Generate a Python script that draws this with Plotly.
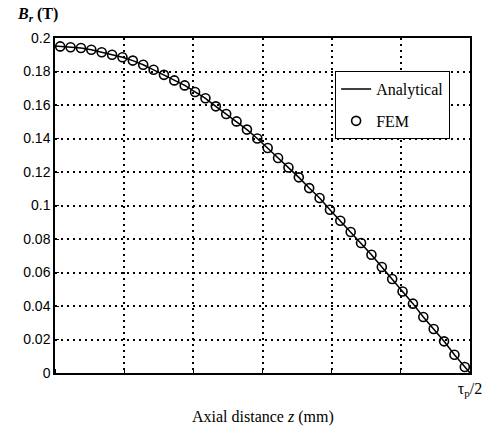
import plotly.graph_objects as go

# Axial position as a fraction of tau_p/2
z_fem = [0.0125, 0.0375, 0.0625, 0.0875, 0.1125, 0.1375, 0.1625, 0.1875, 0.2125, 0.2375,
         0.2625, 0.2875, 0.3125, 0.3375, 0.3625, 0.3875, 0.4125, 0.4375, 0.4625, 0.4875,
         0.5125, 0.5375, 0.5625, 0.5875, 0.6125, 0.6375, 0.6625, 0.6875, 0.7125, 0.7375,
         0.7625, 0.7875, 0.8125, 0.8375, 0.8625, 0.8875, 0.9125, 0.9375, 0.9625, 0.9875]
br_fem = [0.1950, 0.1945, 0.1940, 0.1930, 0.1915, 0.1900, 0.1885, 0.1865, 0.1840, 0.1810,
          0.1780, 0.1747, 0.1717, 0.1678, 0.1640, 0.1592, 0.1546, 0.1502, 0.1453, 0.1400,
          0.1343, 0.1284, 0.1227, 0.1168, 0.1104, 0.1045, 0.0975, 0.0909, 0.0842, 0.0776,
          0.0706, 0.0633, 0.0561, 0.0487, 0.0414, 0.0334, 0.0263, 0.0189, 0.0109, 0.0036]

z_analytical = [0.0] + z_fem + [1.0]
br_analytical = [0.1952] + br_fem + [0.0]

x_gridvals = [0, 1/6, 2/6, 3/6, 4/6, 5/6]
x_ticks = [1]
x_ticktext = ["τ<sub>p</sub>/2"]
y_ticks = [0, 0.02, 0.04, 0.06, 0.08, 0.1, 0.12, 0.14, 0.16, 0.18, 0.2]
y_ticktext = ["0", "0.02", "0.04", "0.06", "0.08", "0.1", "0.12", "0.14", "0.16", "0.18", "0.2"]

serif = "Liberation Serif, Times New Roman, serif"
sans = "Liberation Sans, Arial, sans-serif"

fig = go.Figure()
fig.add_trace(go.Scatter(x=z_analytical, y=br_analytical, mode="lines", name="Analytical",
                         legendgroup="a",
                         line=dict(color="black", width=1.5)))
fig.add_trace(go.Scatter(x=z_fem, y=br_fem, mode="markers", name="FEM",
                         legendgroup="b",
                         marker=dict(symbol="circle-open", size=9, color="black",
                                     line=dict(color="black", width=1.6))))

grid_style = dict(gridcolor="black", griddash="2px,4px", gridwidth=1.5)

fig.update_layout(
    width=494, height=428,
    margin=dict(l=55, r=16, t=38, b=55),
    paper_bgcolor="white", plot_bgcolor="white",
    xaxis=dict(range=[0, 1], tickvals=x_ticks, ticktext=x_ticktext,
               tickfont=dict(family=serif, size=16, color="black"),
               showline=True, mirror=True, linecolor="black", linewidth=1.5,
               showgrid=False, ticks="", zeroline=False,
               minor=dict(tickvals=x_gridvals, showgrid=True, ticks="inside",
                          ticklen=4, tickcolor="black", **grid_style)),
    yaxis=dict(range=[0, 0.2], tickvals=y_ticks, ticktext=y_ticktext,
               tickfont=dict(family=sans, size=14, color="black"),
               showline=True, mirror=True, linecolor="black", linewidth=1.5,
               showgrid=True, ticks="inside", ticklen=4, tickcolor="black",
               zeroline=False, **grid_style),
    legend=dict(x=0.675, y=0.901, xanchor="left", yanchor="top",
                bgcolor="white", bordercolor="black", borderwidth=1,
                font=dict(family=serif, size=16, color="black"),
                tracegroupgap=8, itemwidth=30),
    showlegend=True,
    annotations=[
        dict(text="<b><i>B<sub>r</sub></i> (T)</b>", xref="paper", yref="paper",
             x=-0.097, y=1.069, xanchor="left", yanchor="middle", showarrow=False,
             font=dict(family=serif, size=16, color="black")),
        dict(text="Axial distance <i>z</i> (mm)", xref="paper", yref="paper",
             x=0.5, y=-0.132, xanchor="center", yanchor="middle", showarrow=False,
             font=dict(family=serif, size=16, color="black")),
    ],
)

fig.write_html("out.html")
